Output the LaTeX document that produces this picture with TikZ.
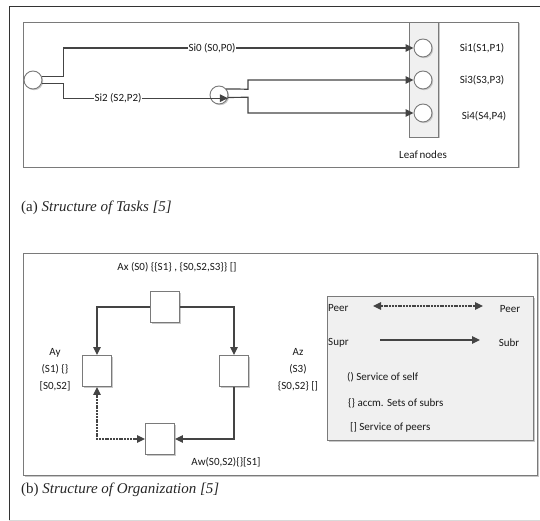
\documentclass[tikz,border=0pt]{standalone}
\usepackage{fontspec}
\newfontfamily\calfont{Carlito}
\newfontfamily\capfont{Liberation Serif}
\usetikzlibrary{arrows.meta,shadows,decorations.pathmorphing}
\definecolor{ln}{HTML}{444444}
\definecolor{bd}{HTML}{7A7A7A}
\definecolor{lg}{HTML}{F0F0F0}
\definecolor{sh}{HTML}{C8C8C8}
\tikzset{
  conn/.style={draw=ln,line width=1.2pt},
  arr/.style={conn,-{Triangle[length=8pt,width=7.5pt]}},
  darr/.style={conn,{Triangle[length=8pt,width=7.5pt]}-{Triangle[length=8pt,width=7.5pt]},dash pattern=on 2pt off 0.8pt},
  shd/.style={drop shadow={shadow xshift=1.2pt,shadow yshift=-1.2pt,fill=sh,opacity=1}},
  circ/.style={circle,draw=bd,line width=0.9pt,fill=white,minimum size=18pt,inner sep=0pt,shd},
  sq/.style={rectangle,draw=bd,line width=0.9pt,fill=white,minimum width=29pt,minimum height=31pt,inner sep=0pt,shd},
  frame/.style={draw=bd,line width=0.9pt},
  shadowbox/.style={fill=sh},
  lbl/.style={font=\calfont\fontsize{11}{17}\selectfont,text=black!90,inner sep=1pt},
  onl/.style={lbl,fill=white},
  captxt/.style={font=\capfont\fontsize{15}{18}\selectfont,anchor=west,inner sep=0pt,text=black!85},
}
\begin{document}
\begin{tikzpicture}[x=1pt,y=-1pt]
\useasboundingbox (0,0) rectangle (540,521);
% outer frame
\draw[black!80,line width=1pt] (9,521) -- (9,7) -- (545,7);
\draw[black!15,line width=0.6pt] (9,520.5) -- (545,520.5);
% ---------- (a)
\fill[shadowbox] (24.5,23.5) rectangle (519.5,168.5);
\draw[frame,fill=white] (23,22) rectangle (518,167);
\fill[shadowbox] (410.5,23.5) rectangle (439.5,138.5);
\node[frame,fill=lg,minimum width=29pt,minimum height=115pt,inner sep=0pt] (leafbox) at (423.5,79.5) {};
\node[circ] (root) at (33,80) {};
\node[circ] (mid) at (219,95) {};
\node[circ] (l1) at (423,48) {};
\node[circ] (l2) at (423,80) {};
\node[circ] (l3) at (423,113) {};
\draw[arr] (root.20) -- ++(21.5,0) |- (l1.west);
\draw[arr] (root.-20) -- ++(21.5,0) |- (mid.-20);
\draw[arr] (mid.40) -- (248,89.2) |- (l2.west);
\draw[arr] (mid.-15) -- (248,97.3) |- (l3.west);
\node[onl] (si0) at (212,48) {Si0 (S0,P0)};
\node[onl] (si2) at (118,98) {Si2 (S2,P2)};
\node[lbl] (si1) at (482,48) {Si1(S1,P1)};
\node[lbl] (si3) at (482,80) {Si3(S3,P3)};
\node[lbl] (si4) at (484,116) {Si4(S4,P4)};
\node[lbl] (leafl) at (423,155) {Leaf\,nodes};
\node[captxt] (capa) at (21,208) {(a) \textit{Structure of Tasks [5]}};
% ---------- (b)
\fill[shadowbox] (24.5,254.5) rectangle (538.5,476.5);
\draw[frame,fill=white] (23,253) rectangle (537,475);
\node[sq] (ax) at (165,307) {};
\node[sq] (ay) at (97,371) {};
\node[sq] (az) at (234,371) {};
\node[sq] (aw) at (160,439) {};
\draw[arr] (ax.west) -| (ay.north);
\draw[arr] (ax.east) -| (az.north);
\draw[arr] (az.south) |- (aw.east);
\draw[darr] (aw.west) -| (ay.south);
\node[lbl] (axl) at (177,267) {Ax (S0) \{\{S1\} , \{S0,S2,S3\}\} []};
\node[lbl,align=center] (ayl) at (55,370) {Ay\\(S1) \{\}\\{}[S0,S2]};
\node[lbl,align=center] (azl) at (298,370) {Az\\(S3)\\\{S0,S2\} []};
\node[lbl] (awl) at (226,462) {Aw(S0,S2)\{\}[S1]};
% legend
\fill[shadowbox] (328.5,297.5) rectangle (534.5,441.5);
\draw[frame,fill=lg] (327,296) rectangle (533,440);
\coordinate (p1) at (373,306);
\coordinate (p2) at (483,306);
\coordinate (s1) at (380,340);
\coordinate (s2) at (480,340);
\draw[darr] (p1) -- (p2);
\draw[arr] (s1) -- (s2);
\node[lbl,anchor=west] (peerl) at (327,308) {Peer};
\node[lbl] (peerr) at (510,309) {Peer};
\node[lbl,anchor=west] (supr) at (327,343) {Supr};
\node[lbl] (subr) at (509,343) {Subr};
\node[lbl,anchor=west] (i1) at (346,377) {() Service of self};
\node[lbl,anchor=west] (i2) at (347,403) {\{\} accm. Sets of subrs};
\node[lbl,anchor=west] (i3) at (349,427) {[] Service of peers};
\node[captxt] (capb) at (21,490) {(b) \textit{Structure of Organization [5]}};
\end{tikzpicture}
\end{document}
